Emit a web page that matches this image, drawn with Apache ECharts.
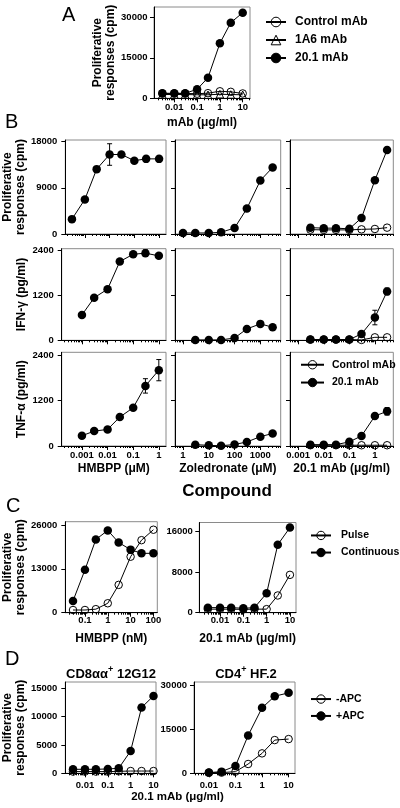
<!DOCTYPE html>
<html><head><meta charset="utf-8">
<script src="https://cdn.jsdelivr.net/npm/echarts@6/dist/echarts.min.js"></script>
<style>html,body{margin:0;padding:0;background:#fff}#c{width:400px;height:808px}</style>
</head><body><div id="c"></div>
<script>
// ---------------- DATA ----------------
// Panel A
const concA = [0.003, 0.01, 0.03, 0.1, 0.3, 1, 3, 10];
const A_control = [1800, 1800, 1800, 1700, 1900, 2600, 2400, 1800];
const A_1A6 = [1400, 1400, 1400, 1300, 1300, 1500, 1400, 1300];
const A_201 = [1850, 1850, 1850, 3330, 7630, 20370, 28000, 31700];
// Panel B - HMBPP (uM)
const hmbpp8 = [0.0003, 0.001, 0.003, 0.01, 0.03, 0.1, 0.3, 1];
const hmbpp7 = [0.001, 0.003, 0.01, 0.03, 0.1, 0.3, 1];
const B_prolif_hmbpp = [2900, 6750, 12650, 15500, 15500, 14300, 14650, 14650];
const B_prolif_hmbpp_err = [0, 0, 0, 2100, 0, 0, 0, 0];
const B_ifn_hmbpp = [680, 1140, 1370, 2110, 2305, 2335, 2262];
const B_ifn_hmbpp_err = [0, 0, 0, 0, 0, 90, 0];
const B_tnf_hmbpp = [270, 393, 437, 763, 1010, 1585, 2000];
const B_tnf_hmbpp_err = [0, 0, 0, 0, 40, 190, 280];
// Panel B - Zoledronate (uM)
const zol8 = [1, 3, 10, 30, 100, 300, 1000, 3000];
const zol7 = [3, 10, 30, 100, 300, 1000, 3000];
const B_prolif_zol = [200, 200, 200, 330, 1170, 4950, 10430, 12980];
const B_ifn_zol = [10, 10, 10, 62, 305, 440, 350];
const B_tnf_zol = [35, 18, 5, 40, 106, 247, 330];
// Panel B - 20.1 mAb (ug/ml)
const mab7 = [0.003, 0.01, 0.03, 0.1, 0.3, 1, 3];
const B_prolif_ctrl = [850, 800, 800, 800, 910, 980, 1240];
const B_prolif_201 = [1240, 1140, 1140, 1010, 3130, 10500, 16370];
const B_ifn_ctrl = [20, 20, 20, 20, 10, 80, 80];
const B_ifn_201 = [20, 20, 20, 20, 170, 610, 1310];
const B_ifn_201_err = [0, 0, 0, 0, 0, 195, 90];
const B_tnf_ctrl = [20, 20, 20, 20, 20, 20, 20];
const B_tnf_201 = [35, 35, 35, 110, 265, 790, 915];
const B_tnf_201_err = [0, 0, 0, 0, 0, 40, 100];
// Panel C
const hmbppNM = [0.03, 0.1, 0.3, 1, 3, 10, 30, 100];
const C_pulse_hmbpp = [800, 800, 1050, 2800, 8250, 16600, 21500, 24600];
const C_cont_hmbpp = [3500, 12700, 21700, 24400, 20800, 18700, 17600, 17600];
const mab8 = [0.003, 0.01, 0.03, 0.1, 0.3, 1, 3, 10];
const C_pulse_mab = [700, 700, 700, 650, 700, 700, 3400, 7470];
const C_cont_mab = [1000, 1000, 1000, 870, 1000, 3830, 13420, 16800];
// Panel D
const D_cd8_minus = [300, 300, 300, 300, 350, 400, 400, 400];
const D_cd8_plus = [706, 706, 706, 765, 882, 3941, 11588, 13647];
const mabD = [0.01, 0.03, 0.1, 0.3, 1, 3, 10];
const D_cd4_minus = [230, 230, 570, 3170, 6790, 11320, 11660];
const D_cd4_plus = [230, 570, 2490, 12900, 22300, 26260, 27400];
// Tick labels
const yTicksA = [0, 15000, 30000];
const yTicksProlifB = [0, 9000, 18000];
const yTicksCyto = [0, 1200, 2400];
const yTicksC1 = [0, 13000, 26000];
const yTicksC2 = [0, 8000, 16000];
const yTicksD1 = [0, 5000, 10000, 15000];
const yTicksD2 = [0, 15000, 30000];

// ---------------- BUILD ----------------
const F = '"Liberation Sans", Arial, Helvetica, sans-serif';
const tickFont = {fontFamily: F, fontWeight: 'bold', fontSize: 9.5, color: '#000'};
const nameFont = {fontFamily: F, fontWeight: 'bold', fontSize: 12, color: '#000', lineHeight: 13};
const grids = [], xAxes = [], yAxes = [], series = [];
const lg = v => Math.log10(v);
function fmtLog(v) { const p = Math.round(v); return p < 0 ? Math.pow(10, p).toFixed(-p) : String(Math.pow(10, p)); }
function majorVals(min, max) { const o = []; for (let k = Math.ceil(min); k <= Math.floor(max); k++) o.push(k); return o; }
function minorVals(min, max) { const o = []; for (let k = Math.floor(min); k <= Math.ceil(max); k++) for (let m = 2; m <= 9; m++) { const v = k + Math.log10(m); if (v > min && v < max) o.push(v); } return o; }

function addPanel(p) {
  const gi = grids.length;
  grids.push({left: p.x0, top: p.y0, width: p.x1 - p.x0, height: p.y1 - p.y0, show: true,
    borderColor: '#8a8a8a', borderWidth: 1, backgroundColor: 'transparent'});
  const maj = majorVals(p.xmin, p.xmax);
  const xi = xAxes.length;
  xAxes.push({type: 'value', gridIndex: gi, min: p.xmin, max: p.xmax, position: 'bottom',
    axisLine: {show: true, onZero: false, lineStyle: {color: '#000', width: 1}},
    splitLine: {show: false},
    axisTick: {show: true, length: 4, customValues: maj, lineStyle: {color: '#000'}},
    axisLabel: Object.assign({show: !!p.xlabels, customValues: maj, formatter: fmtLog, margin: p.xmargin || 4}, tickFont),
    name: p.xname || '', nameLocation: 'middle', nameGap: p.xnameGap || 16, nameTextStyle: nameFont});
  xAxes.push({type: 'value', gridIndex: gi, min: p.xmin, max: p.xmax, position: 'bottom',
    axisLine: {show: false, onZero: false}, splitLine: {show: false}, axisLabel: {show: false},
    axisTick: {show: true, length: 2, customValues: minorVals(p.xmin, p.xmax), lineStyle: {color: '#000'}}});
  const yi = yAxes.length;
  yAxes.push({type: 'value', gridIndex: gi, min: 0, max: p.ymax,
    axisLine: {show: true, onZero: false, lineStyle: {color: '#000', width: 1}},
    splitLine: {show: false},
    axisTick: {show: true, length: 4, customValues: p.yticks, lineStyle: {color: '#000'}},
    axisLabel: Object.assign({show: !!p.ylabels, customValues: p.yticks, margin: p.ymargin || 8,
      formatter: v => String(Math.round(v))}, tickFont),
    name: p.yname || '', nameLocation: 'middle', nameRotate: 90, nameGap: p.ynameGap || 34, nameTextStyle: nameFont});
  return {xi, yi};
}
function addLine(ax, name, xs, ys, filled, symbol) {
  series.push({type: 'line', name, xAxisIndex: ax.xi, yAxisIndex: ax.yi,
    data: xs.map((x, i) => [lg(x), ys[i]]),
    symbol: symbol || 'circle', symbolSize: filled ? 8.5 : 7.5, showSymbol: true, clip: false,
    lineStyle: {color: '#000', width: 1},
    itemStyle: {color: filled ? '#000' : 'rgba(255,255,255,0)', borderColor: '#000', borderWidth: filled ? 0 : 1},
    emphasis: {disabled: true}, silent: true, z: 3});
}
function addErr(ax, xs, ys, es) {
  const data = xs.map((x, i) => [lg(x), ys[i], es[i]]).filter(d => d[2] > 0);
  series.push({type: 'custom', xAxisIndex: ax.xi, yAxisIndex: ax.yi, data, clip: false, silent: true, z: 2,
    renderItem: (params, api) => {
      const x = api.value(0), y = api.value(1), e = api.value(2);
      const t = api.coord([x, y + e]), b = api.coord([x, y - e]); const w = 2.5;
      const st = {stroke: '#000', lineWidth: 1};
      return {type: 'group', children: [
        {type: 'line', shape: {x1: t[0], y1: t[1], x2: b[0], y2: b[1]}, style: st},
        {type: 'line', shape: {x1: t[0] - w, y1: t[1], x2: t[0] + w, y2: t[1]}, style: st},
        {type: 'line', shape: {x1: b[0] - w, y1: b[1], x2: b[0] + w, y2: b[1]}, style: st}]};
    }});
}

// Panel A
const pA = addPanel({x0: 154, y0: 7, x1: 250, y1: 98.3, xmin: -2.89, xmax: 1.32, xlabels: true,
  xname: 'mAb (μg/ml)', xnameGap: 18, xmargin: 4, ymax: 33800, yticks: yTicksA, ylabels: true, ymargin: 6.5,
  yname: 'Proliferative\nresponses (cpm)', ynameGap: 32.5});
addLine(pA, 'Control mAb', concA, A_control, false);
addLine(pA, '1A6 mAb', concA, A_1A6, false, 'triangle');
addLine(pA, '20.1 mAb', concA, A_201, true);

// Panel B
const colsB = [{x0: 61.7, x1: 166, xmin: -3.79, xmax: 0.28, xname: 'HMBPP (μM)'},
               {x0: 175, x1: 280.7, xmin: -0.31, xmax: 3.79, xname: 'Zoledronate (μM)'},
               {x0: 290, x1: 393.3, xmin: -3.32, xmax: 0.72, xname: '20.1 mAb (μg/ml)'}];
const rowsB = [{y0: 140, y1: 234, ymax: 18330, yticks: yTicksProlifB, yname: 'Proliferative\nresponses (cpm)'},
               {y0: 248.7, y1: 340.3, ymax: 2454, yticks: yTicksCyto, yname: 'IFN-γ (pg/ml)'},
               {y0: 352.3, y1: 446, ymax: 2471, yticks: yTicksCyto, yname: 'TNF-α (pg/ml)'}];
const B = [];
rowsB.forEach((r, ri) => { B[ri] = []; colsB.forEach((c, ci) => {
  B[ri][ci] = addPanel({x0: c.x0, x1: c.x1, y0: r.y0, y1: r.y1, xmin: c.xmin, xmax: c.xmax,
    xlabels: ri === 2, xname: ri === 2 ? c.xname : '', xnameGap: 16.5, xmargin: 4,
    ymax: r.ymax, yticks: r.yticks, ylabels: ci === 0, ymargin: 8,
    yname: ci === 0 ? r.yname : '', ynameGap: 34});
}); });
addErr(B[0][0], hmbpp8, B_prolif_hmbpp, B_prolif_hmbpp_err);
addLine(B[0][0], '20.1 mAb', hmbpp8, B_prolif_hmbpp, true);
addErr(B[1][0], hmbpp7, B_ifn_hmbpp, B_ifn_hmbpp_err);
addLine(B[1][0], '20.1 mAb', hmbpp7, B_ifn_hmbpp, true);
addErr(B[2][0], hmbpp7, B_tnf_hmbpp, B_tnf_hmbpp_err);
addLine(B[2][0], '20.1 mAb', hmbpp7, B_tnf_hmbpp, true);
addLine(B[0][1], '20.1 mAb', zol8, B_prolif_zol, true);
addLine(B[1][1], '20.1 mAb', zol7, B_ifn_zol, true);
addLine(B[2][1], '20.1 mAb', zol7, B_tnf_zol, true);
addLine(B[0][2], 'Control mAb', mab7, B_prolif_ctrl, false);
addLine(B[0][2], '20.1 mAb', mab7, B_prolif_201, true);
addLine(B[1][2], 'Control mAb', mab7, B_ifn_ctrl, false);
addErr(B[1][2], mab7, B_ifn_201, B_ifn_201_err);
addLine(B[1][2], '20.1 mAb', mab7, B_ifn_201, true);
addLine(B[2][2], 'Control mAb', mab7, B_tnf_ctrl, false);
addErr(B[2][2], mab7, B_tnf_201, B_tnf_201_err);
addLine(B[2][2], '20.1 mAb', mab7, B_tnf_201, true);

// Panel C
const pC1 = addPanel({x0: 63.3, y0: 521.7, x1: 157.3, y1: 612.7, xmin: -1.86, xmax: 2.17, xlabels: true,
  xname: 'HMBPP (nM)', xnameGap: 19, xmargin: 3, ymax: 26980, yticks: yTicksC1, ylabels: true, ymargin: 8,
  yname: 'Proliferative\nresponses (cpm)', ynameGap: 31});
addLine(pC1, 'Pulse', hmbppNM, C_pulse_hmbpp, false);
addLine(pC1, 'Continuous', hmbppNM, C_cont_hmbpp, true);
const pC2 = addPanel({x0: 199.3, y0: 522.5, x1: 296, y1: 612.7, xmin: -2.89, xmax: 1.26, xlabels: true,
  xname: '20.1 mAb (μg/ml)', xnameGap: 19, xmargin: 3, ymax: 17800, yticks: yTicksC2, ylabels: true, ymargin: 6.5});
addLine(pC2, 'Pulse', mab8, C_pulse_mab, false);
addLine(pC2, 'Continuous', mab8, C_cont_mab, true);

// Panel D
const pD1 = addPanel({x0: 63.3, y0: 682, x1: 156, y1: 773.3, xmin: -2.86, xmax: 1.11, xlabels: true, xmargin: 7,
  ymax: 16100, yticks: yTicksD1, ylabels: true, ymargin: 8, yname: 'Proliferative\nresponses (cpm)', ynameGap: 32});
addLine(pD1, '-APC', mab8, D_cd8_minus, false);
addLine(pD1, '+APC', mab8, D_cd8_plus, true);
const pD2 = addPanel({x0: 194, y0: 682, x1: 295, y1: 773.3, xmin: -2.56, xmax: 1.24, xlabels: true, xmargin: 7,
  ymax: 31100, yticks: yTicksD2, ylabels: true, ymargin: 7});
addLine(pD2, '-APC', mabD, D_cd4_minus, false);
addLine(pD2, '+APC', mabD, D_cd4_plus, true);

function legendCfg(names, left, top, fs, iw, ih, gap, pad) {
  return {data: names, orient: 'vertical', left, top, itemWidth: iw, itemHeight: ih, itemGap: gap,
    selectedMode: false, padding: 0, itemStyle: {borderWidth: 1},
    textStyle: {fontFamily: F, fontWeight: 'bold', fontSize: fs, color: '#000', lineHeight: fs + 2, padding: [0, 0, 0, pad]}};
}
const txt = (t, x, y, fs, bold, align) => ({type: 'text', x, y, silent: true,
  style: {text: t, fontFamily: F, fontSize: fs, fontWeight: bold ? 'bold' : 'normal', fill: '#000',
    align: align || 'left', verticalAlign: 'middle'}});
const supTitle = (a, b, x, y) => ({type: 'text', x, y, silent: true,
  style: {text: '{m|' + a + '}{s|+}{m|' + b + '}', align: 'center', verticalAlign: 'middle', fill: '#000',
    rich: {m: {fontFamily: F, fontSize: 13, fontWeight: 'bold', lineHeight: 16, verticalAlign: 'bottom'},
           s: {fontFamily: F, fontSize: 9, fontWeight: 'bold', lineHeight: 16, verticalAlign: 'top', padding: [0, 0, 6, 0]}}}});

const chart = echarts.init(document.getElementById('c'), null, {renderer: 'canvas'});
chart.setOption({
  animation: false,
  backgroundColor: '#fff',
  grid: grids, xAxis: xAxes, yAxis: yAxes, series,
  legend: [
    legendCfg(['Control mAb', '1A6 mAb', '20.1 mAb'], 265, 15, 12, 20, 12, 4, 4),
    legendCfg(['Control mAb', '20.1 mAb'], 300, 358.5, 10.5, 23, 10.5, 5.3, 3),
    legendCfg(['Pulse', 'Continuous'], 310, 529.2, 10.5, 20, 10.5, 4.6, 5),
    legendCfg(['-APC', '+APC'], 310, 692.8, 10.5, 20, 10.5, 4.4, 0)
  ],
  graphic: [
    txt('A', 62, 15, 20, false),
    txt('B', 5, 122.5, 20, false),
    txt('C', 6, 506.7, 20, false),
    txt('D', 5, 659, 20, false),
    txt('Compound', 227, 491.7, 17, true, 'center'),
    supTitle('CD8αα', ' 12G12', 111, 673.3),
    supTitle('CD4', ' HF.2', 246, 673),
    txt('20.1 mAb (μg/ml)', 177.5, 796.7, 11.5, true, 'center')
  ]
});
</script></body></html>
